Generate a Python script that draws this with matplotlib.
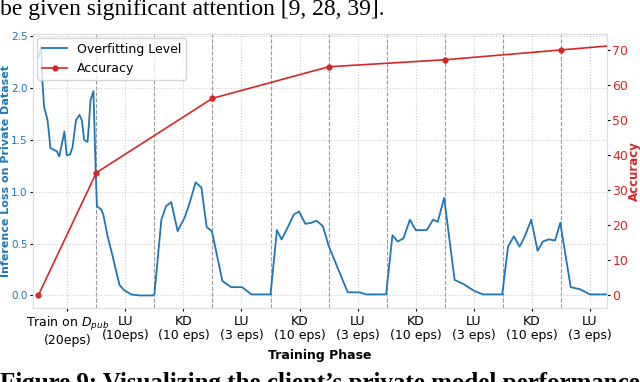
import matplotlib
matplotlib.use('Agg')
import matplotlib.pyplot as plt
import numpy as np

# x in "phase" units: phase k spans [k, k+1]
loss_x = [0.0, 0.05, 0.07, 0.10, 0.16, 0.21, 0.28, 0.32, 0.36, 0.41, 0.45, 0.49,
          0.55, 0.59, 0.65, 0.71, 0.75, 0.79, 0.85, 0.90, 0.95, 0.99,
          1.01, 1.08, 1.12, 1.19, 1.28, 1.33, 1.40, 1.48, 1.60, 1.74, 1.97,
          2.00, 2.12, 2.20, 2.29, 2.40, 2.52, 2.60, 2.71, 2.81, 2.90, 2.99,
          3.17, 3.32, 3.51, 3.67, 4.00,
          4.11, 4.19, 4.30, 4.40, 4.49, 4.60, 4.70, 4.79, 4.90, 5.00,
          5.16, 5.33, 5.53, 5.65, 5.99,
          6.10, 6.19, 6.29, 6.40, 6.50, 6.69, 6.80, 6.88, 6.99,
          7.17, 7.32, 7.52, 7.66, 7.99,
          8.09, 8.19, 8.29, 8.38, 8.49, 8.60, 8.69, 8.79, 8.90, 8.99,
          9.17, 9.33, 9.50, 9.79]
loss_y = [2.29, 2.40, 2.07, 1.82, 1.69, 1.42, 1.40, 1.39, 1.34, 1.47, 1.58, 1.35,
          1.36, 1.43, 1.69, 1.74, 1.69, 1.50, 1.48, 1.88, 1.97, 1.18,
          0.86, 0.83, 0.78, 0.58, 0.38, 0.26, 0.10, 0.05, 0.01, 0.0, 0.0,
          0.01, 0.73, 0.86, 0.90, 0.62, 0.75, 0.88, 1.09, 1.04, 0.66, 0.62,
          0.14, 0.08, 0.08, 0.01, 0.01,
          0.63, 0.54, 0.66, 0.78, 0.81, 0.69, 0.70, 0.72, 0.67, 0.48,
          0.26, 0.03, 0.03, 0.01, 0.01,
          0.58, 0.52, 0.55, 0.73, 0.63, 0.63, 0.73, 0.71, 0.94,
          0.15, 0.11, 0.04, 0.01, 0.01,
          0.47, 0.57, 0.47, 0.57, 0.73, 0.43, 0.52, 0.54, 0.53, 0.70,
          0.08, 0.06, 0.01, 0.01]

acc_x = [0, 1, 3, 5, 7, 9, 9.79]
acc_y = [0, 35, 56.2, 65.2, 67.2, 70, 71.1]

phase_labels = ['Train on $D_{pub}$\n(20eps)', 'LU\n(10eps)', 'KD\n(10 eps)',
                'LU\n(3 eps)', 'KD\n(10 eps)', 'LU\n(3 eps)', 'KD\n(10 eps)',
                'LU\n(3 eps)', 'KD\n(10 eps)', 'LU\n(3 eps)']
boundaries = [1, 2, 3, 4, 5, 6, 7, 8, 9]

blue = '#1f77b4'
red = '#d62728'

fig = plt.figure(figsize=(6.4, 3.82), dpi=100)
fig.set_facecolor('w')
ax = fig.add_axes([0.052, 0.194, 0.896, 0.717])
ax2 = ax.twinx()

l1, = ax.plot(loss_x, loss_y, '-', color=blue, lw=1.3, label='Overfitting Level')
l2, = ax2.plot(acc_x, acc_y, '.-', color=red, lw=1.2, markersize=7,
               markevery=list(range(6)), label='Accuracy')

for b in boundaries:
    ax.axvline(b, color='#999999', ls='--', lw=0.8, zorder=0)

ax.set_xlim(-0.086, 9.79)
ax.set_ylim(-0.12, 2.52)
ax2.set_ylim(-3.55, 74.55)

ax.set_xticks(np.arange(len(phase_labels)) + 0.5)
ax.set_xticklabels(phase_labels, fontsize=9, linespacing=1.15)
ax.set_yticks([0, 0.5, 1.0, 1.5, 2.0, 2.5])
ax2.set_yticks(range(0, 80, 10))

ax.grid(True, ls=':', color='#cccccc', lw=0.8)
ax.tick_params(axis='y', labelcolor=blue, labelsize=7.5, length=2, pad=2)
ax.tick_params(axis='x', length=2, pad=3)
ax2.tick_params(axis='y', labelcolor=red, labelsize=9, length=2, pad=2)

for a in (ax, ax2):
    for s in a.spines.values():
        s.set_color('#dddddd')

ax.set_ylabel('Inference Loss on Private Dataset', color=blue, fontsize=8,
              fontweight='bold', labelpad=0)
ax2.set_ylabel('Accuracy', color=red, fontsize=8.5, fontweight='bold', labelpad=0)
ax.set_xlabel('Training Phase', fontsize=9, fontweight='bold', labelpad=1)

ax.legend([l1, l2], ['Overfitting Level', 'Accuracy'], loc='upper left',
          fontsize=9, framealpha=0.8, borderaxespad=0.3)

# surrounding paper text, cropped by the figure edges
fig.text(0.0, 0.961, 'be given significant attention [9, 28, 39].',
         family='Liberation Serif', fontsize=17, va='baseline', ha='left')
fig.text(0.0, 0.026, "Figure 9: Visualizing the client\u2019s private model performance",
         family='Liberation Serif', fontsize=18, fontweight='bold', va='top', ha='left')

fig.savefig('out.png', dpi=100)
